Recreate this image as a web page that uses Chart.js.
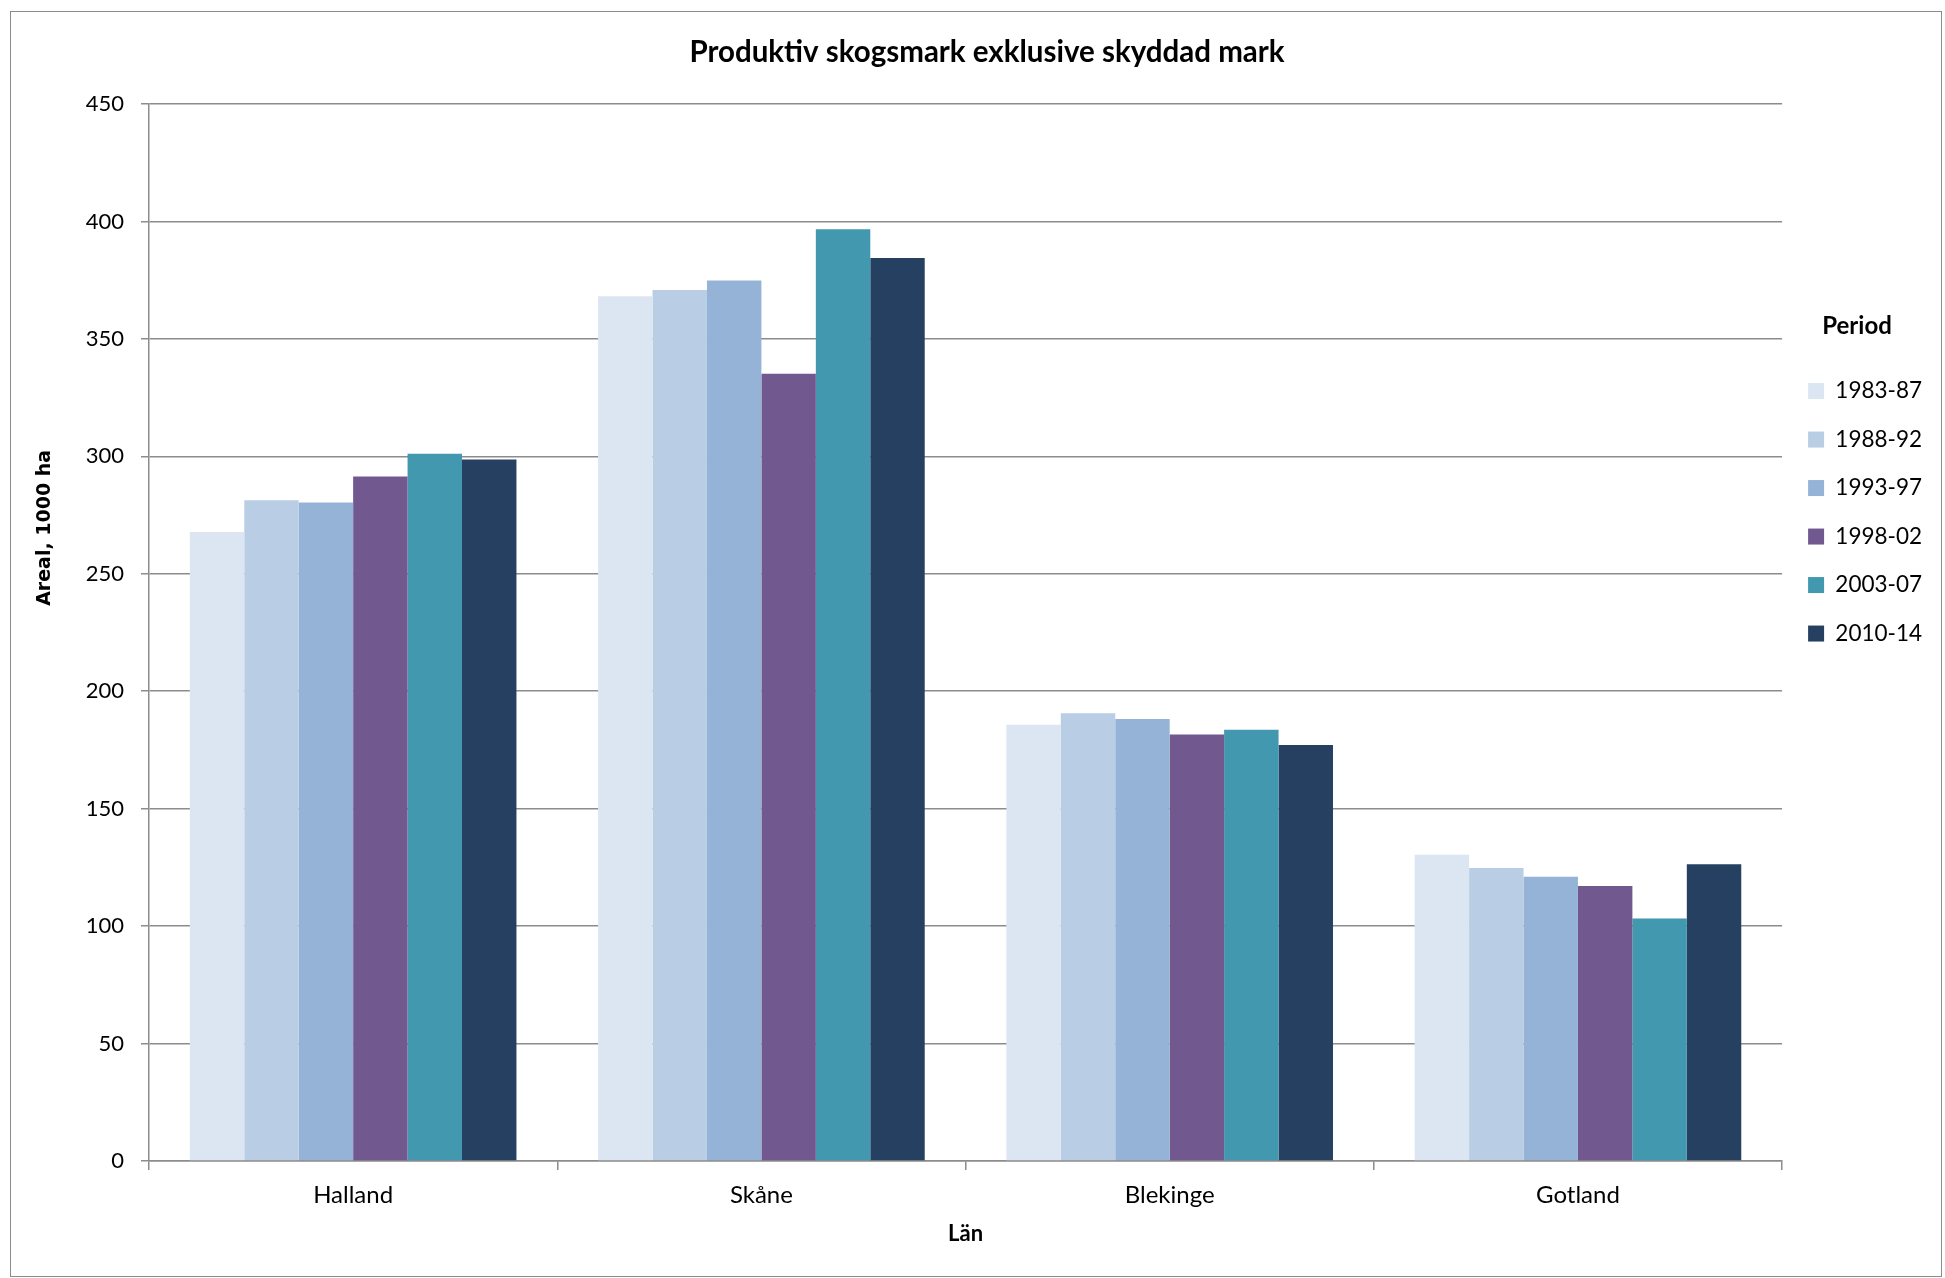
<!DOCTYPE html>
<html>
<head>
<meta charset="utf-8">
<script src="https://cdn.jsdelivr.net/npm/chart.js@4.4.0/dist/chart.umd.min.js"></script>
<style>
  html, body { margin: 0; padding: 0; background: #fff; }
  #wrap { position: absolute; left: 0; top: 0; width: 1945px; height: 1278px; }
  #frame { position: absolute; left: 10px; top: 11px; width: 1932px; height: 1266px; border: 1px solid #8c8c8c; box-sizing: border-box; pointer-events: none; }
</style>
</head>
<body>
<div id="wrap">
  <canvas id="chart" width="1945" height="1278"></canvas>
  <div id="frame"></div>
</div>
<script>
// Län (kategorier)
const lan = ['Halland', 'Skåne', 'Blekinge', 'Gotland'];

// Perioder (serier)
const perioder = ['1983-87', '1988-92', '1993-97', '1998-02', '2003-07', '2010-14'];

// Areal, 1000 ha, per period
const v1983_87 = [267.8, 368.2, 185.7, 130.4];
const v1988_92 = [281.3, 370.8, 190.6, 124.7];
const v1993_97 = [280.3, 374.9, 188.2, 121.0];
const v1998_02 = [291.4, 335.2, 181.6, 117.1];
const v2003_07 = [301.1, 396.7, 183.6, 103.2];
const v2010_14 = [298.7, 384.4, 177.1, 126.3];

const farger = ['#DCE6F2', '#B9CDE5', '#95B3D7', '#71588F', '#4198AF', '#254061'];

// y-axelns skala
const yMin = 0;
const yMax = 450;
const yStep = 50;
const yTitel = 'Areal, 1000 ha';

const serier = [v1983_87, v1988_92, v1993_97, v1998_02, v2003_07, v2010_14];
const gra = '#8c8c8c';

const datasets = perioder.map((p, i) => ({
  label: p,
  data: serier[i],
  backgroundColor: farger[i],
  borderWidth: 0,
  barPercentage: 1.0,
  categoryPercentage: 0.8
}));

// y-axelns titel ligger lite ovanför mitten, som i Excel-originalet
const yTitelPlugin = {
  id: 'yTitel',
  afterDraw(chart) {
    const { ctx, chartArea } = chart;
    const y = chartArea.top + (chartArea.bottom - chartArea.top) * 0.401;
    ctx.save();
    ctx.translate(45, y);
    ctx.rotate(-Math.PI / 2);
    ctx.font = 'bold 19px "DejaVu Sans"';
    ctx.fillStyle = '#000';
    ctx.textAlign = 'center';
    ctx.textBaseline = 'middle';
    ctx.fillText(yTitel, 0, 0);
    ctx.restore();
  }
};

new Chart(document.getElementById('chart').getContext('2d'), {
  type: 'bar',
  data: { labels: lan, datasets: datasets },
  plugins: [yTitelPlugin],
  options: {
    responsive: false,
    animation: false,
    layout: { padding: { left: 42, right: 13, top: 11, bottom: 2 } },
    plugins: {
      title: {
        display: true,
        text: 'Produktiv skogsmark exklusive skyddad mark',
        color: '#000',
        font: { family: 'Lato', size: 29.5, weight: 'bold' },
        padding: { top: 23.3, bottom: 34.3 }
      },
      legend: {
        position: 'right',
        align: 'start',
        title: {
          display: true,
          text: 'Period',
          color: '#000',
          font: { family: 'Lato', size: 24, weight: 'bold' },
          padding: { top: 303, bottom: 11 }
        },
        labels: {
          boxWidth: 16,
          boxHeight: 16,
          padding: 26,
          color: '#000',
          font: { family: 'Lato', size: 22.5 }
        }
      },
      tooltip: { enabled: false }
    },
    scales: {
      x: {
        grid: {
          display: true,
          drawOnChartArea: false,
          drawTicks: true,
          tickLength: 9,
          offset: true,
          color: gra,
          lineWidth: 1.5
        },
        border: { color: gra, width: 1.5 },
        ticks: { color: '#000', padding: 11, font: { family: 'Lato', size: 24 } },
        title: {
          display: true,
          text: 'Län',
          color: '#000',
          font: { family: 'Lato', size: 22, weight: 'bold' },
          padding: { top: 0, bottom: 29 }
        },
        afterFit: (s) => { s.height = 115; }
      },
      y: {
        min: yMin,
        max: yMax,
        ticks: { stepSize: yStep, color: '#000', padding: 17, font: { family: 'Lato', size: 22 } },
        grid: { color: gra, lineWidth: 1.5, tickLength: 8 },
        border: { color: gra, width: 1.5 },
        title: { display: false },
        afterFit: (s) => { s.width = 107; }
      }
    }
  }
});
</script>
</body>
</html>
